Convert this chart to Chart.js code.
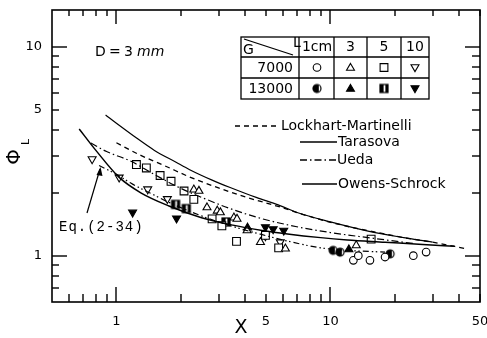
<!DOCTYPE html>
<html lang="en">
<head>
  <meta charset="UTF-8" />
  <title>Phi_L vs X</title>
  <script src="https://cdn.jsdelivr.net/npm/chart.js"></script>
  <style>
    body { margin: 0; background: #fff; }
    canvas { display: block; }
  </style>
</head>
<body>
<canvas id="phiChart" width="487" height="338"></canvas>
<script>
  // axis ticks
  const xTickValues = [0.6, 0.7, 0.8, 0.9, 1, 2, 3, 4, 5, 6, 7, 8, 9, 10, 20, 30, 40, 50];
  const xTickLabels = [1, 5, 10, 50];
  const yTickValues = [0.7, 0.8, 0.9, 1, 2, 3, 4, 5, 6, 7, 8, 9, 10];
  const yTickLabels = [1, 5, 10];
  const majorTicks = [1, 10];

  // correlation curves
  const lmX = [1.0, 1.3, 1.7, 2.2, 3.0, 4.0, 5.7, 8, 11, 16, 22, 30, 43];
  const lmY = [3.47, 3.02, 2.68, 2.38, 2.11, 1.91, 1.72, 1.54, 1.41, 1.30, 1.22, 1.16, 1.08];
  const tarX = [0.89, 1.0, 1.2, 1.5, 1.9, 2.2, 2.8, 3.4, 4.5, 5.7, 7.1, 10, 15, 22, 30];
  const tarY = [4.71, 4.3, 3.75, 3.2, 2.8, 2.58, 2.3, 2.12, 1.9, 1.75, 1.6, 1.45, 1.31, 1.22, 1.16];
  const uedaX = [0.76, 0.9, 1.17, 1.5, 2.0, 2.6, 3.4, 4.6, 6.4, 10, 15, 25];
  const uedaY = [3.46, 3.15, 2.83, 2.45, 2.1, 1.87, 1.68, 1.52, 1.40, 1.29, 1.22, 1.14];
  const owensX = [0.67, 0.8, 1.03, 1.3, 1.76, 2.5, 3.5, 4.8, 6.3, 9, 12, 18, 27, 38];
  const owensY = [4.04, 3.2, 2.37, 2.0, 1.73, 1.52, 1.40, 1.32, 1.27, 1.22, 1.19, 1.16, 1.13, 1.11];
  const eqX = [0.83, 1.0, 1.19, 1.5, 1.76, 2.5, 3.5, 4.8, 6.4, 9, 12, 18];
  const eqY = [2.7, 2.45, 2.2, 1.95, 1.80, 1.55, 1.38, 1.26, 1.17, 1.09, 1.06, 1.04];

  // measured points, L = 1, 3, 5, 10 cm at G = 7000 / 13000
  const circ7000X = [12.8, 13.5, 15.3, 18.0, 24.4, 28.0];
  const circ7000Y = [0.95, 1.00, 0.95, 0.985, 1.00, 1.04];
  const circ13000X = [10.3, 11.1, 19.0];
  const circ13000Y = [1.06, 1.04, 1.02];
  const tri7000X = [2.30, 2.43, 2.65, 2.96, 3.06, 3.54, 3.66, 4.08, 4.71, 6.16, 13.2];
  const tri7000Y = [2.07, 2.04, 1.70, 1.64, 1.61, 1.52, 1.50, 1.32, 1.16, 1.08, 1.12];
  const tri13000X = [4.1, 12.2];
  const tri13000Y = [1.36, 1.07];
  const sq7000X = [1.24, 1.38, 1.60, 1.80, 2.07, 2.30, 2.80, 3.11, 3.64, 4.97, 5.73, 15.5];
  const sq7000Y = [2.73, 2.63, 2.42, 2.27, 2.04, 1.86, 1.50, 1.39, 1.17, 1.25, 1.09, 1.20];
  const sq13000X = [1.89, 2.12, 3.25];
  const sq13000Y = [1.76, 1.68, 1.45];
  const dn7000X = [0.77, 1.03, 1.40, 1.73, 4.97, 5.83];
  const dn7000Y = [2.90, 2.37, 2.08, 1.87, 1.24, 1.16];
  const dn13000X = [1.19, 1.91, 4.97, 5.40, 6.05];
  const dn13000Y = [1.61, 1.51, 1.37, 1.34, 1.32];

  const zip = (xs, ys) => xs.map((x, i) => ({ x: x, y: ys[i] }));

  // half filled marker images
  function halfImg(shape) {
    const c = document.createElement('canvas');
    c.width = 12; c.height = 12;
    const g = c.getContext('2d');
    const m = 6, r = 4;
    g.strokeStyle = '#000'; g.fillStyle = '#000'; g.lineWidth = 1.2;
    if (shape === 'circle') {
      g.fillStyle = '#fff';
      g.beginPath(); g.arc(m, m, r, 0, Math.PI * 2); g.fill();
      g.fillStyle = '#000';
      g.beginPath(); g.arc(m, m, r, Math.PI * 0.35, Math.PI * 1.65); g.closePath(); g.fill();
      g.beginPath(); g.arc(m, m, r, 0, Math.PI * 2); g.stroke();
    } else {
      g.fillStyle = '#fff'; g.fillRect(m - r, m - r, 2 * r, 2 * r);
      g.fillStyle = '#000';
      g.fillRect(m - r, m - r, r * 0.9, 2 * r);
      g.fillRect(m + r * 0.35, m - r, r * 0.65, 2 * r);
      g.strokeRect(m - r, m - r, 2 * r, 2 * r);
    }
    return c;
  }
  const halfCircle = halfImg('circle');
  const halfSquare = halfImg('rect');

  function curve(data, dash, width) {
    return {
      data: data, showLine: true, pointRadius: 0, fill: false,
      borderColor: '#000', borderWidth: width, borderDash: dash,
      cubicInterpolationMode: 'monotone'
    };
  }
  function points(data, style, filled, radius, rotation) {
    return {
      data: data, showLine: false, pointStyle: style, pointRadius: radius,
      pointRotation: rotation || 0, borderColor: '#000', borderWidth: 1.1,
      backgroundColor: filled ? '#000' : '#fff'
    };
  }

  const dashLM = [5, 4];
  const dashUeda = [7, 3, 1.5, 3];
  const dashEq = [6, 3, 1.5, 2.5, 1.5, 3];

  function seg(ctx, x1, y1, x2, y2) {
    ctx.beginPath(); ctx.moveTo(x1, y1); ctx.lineTo(x2, y2); ctx.stroke();
  }

  function marker(ctx, style, filled, x, y, rotation) {
    if (style === 'halfCircle') { ctx.drawImage(halfCircle, x - 6, y - 6); return; }
    if (style === 'halfSquare') { ctx.drawImage(halfSquare, x - 6, y - 6); return; }
    ctx.save();
    ctx.fillStyle = filled ? '#000' : '#fff';
    ctx.strokeStyle = '#000'; ctx.lineWidth = 1.1;
    const r = style === 'rect' ? 5.5 : (style === 'circle' ? 3.8 : 4.6);
    Chart.helpers.drawPoint(ctx, { pointStyle: style, radius: r, rotation: rotation || 0, borderWidth: 1.1 }, x, y);
    ctx.restore();
  }

  const overlay = {
    id: 'overlay',
    afterDraw(chart) {
      const ctx = chart.ctx;
      const a = chart.chartArea;
      const sx = chart.scales.x, sy = chart.scales.y;
      ctx.save();
      ctx.setLineDash([]);
      ctx.strokeStyle = '#000';
      ctx.fillStyle = '#000';
      ctx.lineWidth = 1.6;
      ctx.strokeRect(a.left, a.top, a.right - a.left, a.bottom - a.top);

      // inward ticks on all four sides
      for (const v of xTickValues) {
        const px = Math.round(sx.getPixelForValue(v));
        const big = majorTicks.indexOf(v) >= 0;
        const lb = big ? 15 : 8, lt = big ? 14 : 6;
        ctx.fillRect(px - 0.7, a.bottom - lb, 1.4, lb);
        ctx.fillRect(px - 0.7, a.top, 1.4, lt);
      }
      for (const v of yTickValues) {
        const py = Math.round(sy.getPixelForValue(v));
        const big = majorTicks.indexOf(v) >= 0;
        const ll = big ? 15 : 7, lr = big ? 15 : 8;
        ctx.fillRect(a.left, py - 0.7, ll, 1.4);
        ctx.fillRect(a.right - lr, py - 0.7, lr, 1.4);
      }

      ctx.textBaseline = 'middle';

      // axis titles
      ctx.font = '19px "DejaVu Sans"';
      ctx.textAlign = 'center';
      ctx.fillText('X', 241, 328);
      ctx.save();
      ctx.translate(15, 157);
      ctx.rotate(-Math.PI / 2);
      ctx.font = '20px "DejaVu Sans"';
      ctx.fillText('\u03A6', 0, 0);
      ctx.font = '11px "DejaVu Sans"';
      ctx.fillText('L', 15, 11);
      ctx.restore();

      // D = 3 mm
      ctx.textAlign = 'left';
      ctx.font = '14px "DejaVu Sans"';
      ctx.fillText('D', 95, 52);
      ctx.fillText('=', 109, 52);
      ctx.fillText('3', 124, 52);
      ctx.font = 'italic 14px "DejaVu Sans"';
      ctx.fillText('mm', 137, 52);

      // Eq.(2-34) with arrow
      ctx.font = '14px "Liberation Mono"';
      ctx.letterSpacing = '1px';
      ctx.fillText('Eq.(2-34)', 59, 227);
      ctx.letterSpacing = '0px';
      ctx.lineWidth = 1.2;
      seg(ctx, 87, 213, 100, 169);
      ctx.beginPath();
      ctx.moveTo(100.5, 167); ctx.lineTo(96.5, 175); ctx.lineTo(102.5, 176); ctx.closePath(); ctx.fill();

      // table legend
      const tl = 241, tr = 429, tt = 37, tb = 99;
      const cols = [299, 334, 367, 401];
      const rows = [57, 78];
      ctx.lineWidth = 1.3;
      ctx.strokeRect(tl, tt, tr - tl, tb - tt);
      cols.forEach(cx => seg(ctx, cx, tt, cx, tb));
      rows.forEach(ry => seg(ctx, tl, ry, tr, ry));
      seg(ctx, tl + 3, tt + 2, 293, 55);
      ctx.font = '14px "DejaVu Sans"';
      ctx.fillText('G', 243, 50);
      ctx.fillText('L', 293, 43);
      ctx.textAlign = 'center';
      const heads = ['1cm', '3', '5', '10'];
      const centers = [317, 350.5, 384, 415];
      heads.forEach((h, i) => ctx.fillText(h, centers[i], 47));
      ctx.textAlign = 'right';
      ctx.fillText('7000', 293, 68);
      ctx.fillText('13000', 293, 89);
      marker(ctx, 'circle', false, centers[0], 67.5);
      marker(ctx, 'triangle', false, centers[1], 68);
      marker(ctx, 'rect', false, centers[2], 67.5);
      marker(ctx, 'triangle', false, centers[3], 67, 180);
      marker(ctx, 'halfCircle', true, centers[0], 88.5);
      marker(ctx, 'triangle', true, centers[1], 89);
      marker(ctx, 'halfSquare', true, centers[2], 88.5);
      marker(ctx, 'triangle', true, centers[3], 88, 180);

      // line legend
      ctx.textAlign = 'left';
      ctx.lineWidth = 1.3;
      ctx.setLineDash(dashLM);
      seg(ctx, 235, 126, 277, 126);
      ctx.setLineDash([]);
      ctx.fillText('Lockhart-Martinelli', 281, 126);
      seg(ctx, 300, 142, 337, 142);
      ctx.fillText('Tarasova', 338, 142);
      ctx.setLineDash(dashUeda);
      seg(ctx, 300, 160, 336, 160);
      ctx.setLineDash([]);
      ctx.fillText('Ueda', 337, 160);
      ctx.lineWidth = 1.6;
      seg(ctx, 302, 184, 337, 184);
      ctx.fillText('Owens-Schrock', 338, 184);
      ctx.restore();
    }
  };

  const ctx = document.getElementById('phiChart').getContext('2d');

  new Chart(ctx, {
    type: 'scatter',
    data: {
      datasets: [
        curve(zip(lmX, lmY), dashLM, 1.3),
        curve(zip(tarX, tarY), [], 1.2),
        curve(zip(uedaX, uedaY), dashUeda, 1.2),
        curve(zip(owensX, owensY), [], 1.5),
        curve(zip(eqX, eqY), dashEq, 1.2),
        points(zip(circ7000X, circ7000Y), 'circle', false, 3.8),
        points(zip(circ13000X, circ13000Y), halfCircle, true, 4),
        points(zip(tri7000X, tri7000Y), 'triangle', false, 4.6),
        points(zip(tri13000X, tri13000Y), 'triangle', true, 4.6),
        points(zip(sq7000X, sq7000Y), 'rect', false, 5.5),
        points(zip(sq13000X, sq13000Y), halfSquare, true, 5.5),
        points(zip(dn7000X, dn7000Y), 'triangle', false, 4.6, 180),
        points(zip(dn13000X, dn13000Y), 'triangle', true, 4.6, 180)
      ]
    },
    options: {
      responsive: false,
      animation: false,
      events: [],
      layout: { padding: { top: 10, right: 7, left: 0, bottom: 0 } },
      plugins: { legend: { display: false }, tooltip: { enabled: false } },
      scales: {
        x: {
          type: 'logarithmic',
          min: 0.5, max: 50,
          grid: { display: false, drawTicks: false },
          border: { display: false },
          afterBuildTicks: scale => { scale.ticks = xTickValues.map(v => ({ value: v })); },
          afterFit: scale => { scale.height = 36; scale.paddingLeft = 0; scale.paddingRight = 0; },
          ticks: {
            autoSkip: false, maxRotation: 0, padding: 12, color: '#000',
            font: { family: 'DejaVu Sans', size: 13 },
            callback: v => xTickLabels.includes(v) ? String(v) : ''
          }
        },
        y: {
          type: 'logarithmic',
          min: 0.6, max: 15,
          grid: { display: false, drawTicks: false },
          border: { display: false },
          afterBuildTicks: scale => { scale.ticks = yTickValues.map(v => ({ value: v })); },
          afterFit: scale => { scale.width = 52; scale.paddingTop = 0; scale.paddingBottom = 0; },
          ticks: {
            autoSkip: false, padding: 10, color: '#000',
            font: { family: 'DejaVu Sans', size: 13 },
            callback: v => yTickLabels.includes(v) ? String(v) : ''
          }
        }
      }
    },
    plugins: [overlay]
  });
</script>
</body>
</html>
